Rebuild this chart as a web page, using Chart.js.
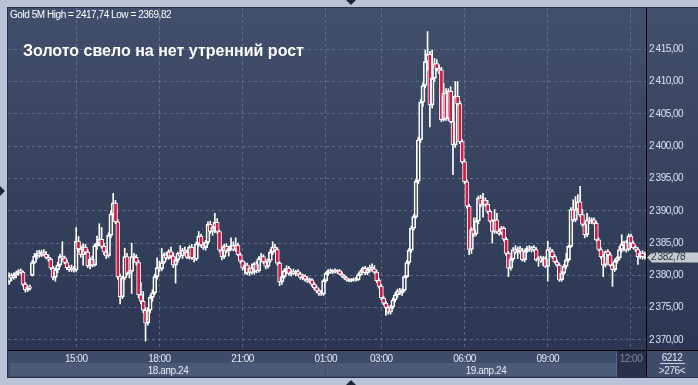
<!DOCTYPE html>
<html>
<head>
<meta charset="utf-8">
<script src="https://cdn.jsdelivr.net/npm/chart.js@4.4.1/dist/chart.umd.min.js"></script>
<style>
html,body{margin:0;padding:0;}
body{width:698px;height:385px;position:relative;overflow:hidden;background:#b9c5d6;font-family:"Liberation Sans",Arial,sans-serif;}
.a{position:absolute;}
#panel{left:7px;top:7px;width:691px;height:369px;border-left:1px solid #26324a;border-top:1px solid #26324a;border-bottom:1px solid #26324a;
  background:linear-gradient(to bottom,#404f6b 0px,#2b3752 342px,#2b3752 100%);}
#axisRow{left:8px;top:351px;width:690px;height:26px;background:#3d4c68;}
.band{top:363px;height:13px;background:#4a5a77;}
#future{left:616px;top:351px;width:29px;height:26px;background:#27324a;border-left:1px solid #5d6980;}
#hline{left:8px;top:350px;width:690px;height:1px;background:#000;}
#vline{left:646px;top:8px;width:1px;height:369px;background:#000;}
canvas{position:absolute;left:0;top:0;}
.txt{color:#e4ebf5;font-size:10px;line-height:10px;white-space:nowrap;letter-spacing:-0.4px;}
#title{left:23px;top:42px;color:#fff;font-size:16px;font-weight:bold;line-height:17px;white-space:nowrap;}
.tri{width:0;height:0;}
</style>
</head>
<body>
<div id="panel" class="a"></div>
<div id="axisRow" class="a"></div>
<div class="a band" style="left:10px;width:315px;"></div>
<div class="a band" style="left:326px;width:320px;"></div>
<div id="future" class="a"></div>
<canvas id="chart" width="698" height="385"></canvas>
<div id="hline" class="a"></div>
<div id="vline" class="a"></div>
<div id="head" class="a txt" style="left:10px;top:10px;color:#fff;letter-spacing:-0.45px;"></div>
<div id="title" class="a">Золото свело на нет утренний рост</div>
<div class="a txt" style="left:128px;top:366px;width:80px;text-align:center;">18.апр.24</div>
<div class="a txt" style="left:446px;top:366px;width:80px;text-align:center;">19.апр.24</div>
<div class="a txt" style="left:652px;top:353px;width:40px;text-align:center;">6212</div>
<div class="a" style="left:660px;top:363px;width:25px;height:1px;background:#c9d3e2;"></div>
<div class="a txt" style="left:652px;top:366px;width:40px;text-align:center;">&gt;276&lt;</div>
<div class="a tri" style="left:346px;top:0;border-left:5px solid transparent;border-right:5px solid transparent;border-top:5px solid #1d2635;"></div>
<div class="a tri" style="left:346px;top:380px;border-left:5px solid transparent;border-right:5px solid transparent;border-bottom:5px solid #1d2635;"></div>
<div class="a tri" style="left:0;top:186px;border-top:5px solid transparent;border-bottom:5px solid transparent;border-left:5px solid #1d2635;"></div>
<script>
// Gold 5M candles, 18-19 Apr 2024, 276 bars
const opens = [
2379.0,2380.0,2379.6,2380.1,2380.4,2380.7,2380.5,2378.6,2377.8,2378.2,2380.0,2382.0,
2383.0,2383.4,2383.1,2383.6,2383.3,2382.8,2382.5,2381.1,2379.7,2380.9,2381.6,2382.9,
2382.7,2382.0,2381.2,2380.9,2381.1,2380.8,2385.3,2384.1,2383.2,2384.4,2383.6,2381.5,
2382.5,2381.6,2384.6,2385.0,2385.6,2384.5,2383.6,2383.0,2386.2,2389.5,2391.2,2388.3,
2379.8,2376.7,2379.6,2382.9,2380.3,2380.6,2382.9,2382.8,2382.0,2377.0,2376.0,2374.6,
2372.6,2374.6,2376.6,2377.3,2379.8,2381.2,2381.0,2382.0,2383.2,2382.7,2383.7,2383.0,
2381.6,2382.4,2383.4,2383.0,2383.9,2383.6,2382.8,2384.4,2382.7,2382.5,2384.9,2386.1,
2384.7,2384.3,2385.1,2387.9,2386.8,2387.4,2388.2,2386.8,2383.9,2382.9,2384.5,2383.8,
2384.2,2384.6,2384.0,2384.7,2383.2,2382.2,2381.1,2381.6,2380.4,2381.1,2380.5,2381.8,
2380.7,2382.6,2382.9,2382.1,2381.4,2382.3,2383.6,2384.4,2384.0,2381.9,2379.0,2379.8,
2380.7,2381.1,2380.3,2380.6,2380.3,2380.6,2380.2,2379.7,2379.9,2379.4,2379.1,2379.3,
2378.6,2378.1,2377.6,2377.2,2377.1,2379.2,2380.3,2380.7,2380.5,2380.8,2380.6,2380.7,
2380.2,2379.9,2379.6,2379.3,2379.2,2379.3,2379.4,2379.3,2380.1,2380.6,2381.1,2380.4,
2380.9,2381.2,2381.0,2380.5,2379.2,2378.3,2376.5,2375.7,2375.0,2374.3,2375.1,2376.2,
2377.0,2377.6,2377.3,2377.7,2379.8,2382.0,2383.9,2387.3,2389.1,2394.6,2401.0,2406.8,
2409.4,2413.1,2414.2,2406.4,2410.5,2412.8,2412.0,2411.8,2404.1,2408.2,2404.3,2408.5,
2403.8,2400.2,2407.7,2406.6,2400.7,2397.6,2394.5,2390.7,2384.0,2387.1,2386.4,2388.4,
2392.0,2390.9,2391.6,2391.0,2389.9,2388.4,2386.8,2388.6,2386.8,2386.5,2387.3,2385.6,
2383.4,2381.1,2382.5,2384.0,2383.6,2384.1,2383.8,2382.4,2383.8,2384.2,2384.0,2384.3,
2384.0,2382.4,2382.7,2382.2,2382.6,2381.4,2384.0,2383.7,2382.9,2382.1,2381.6,2379.3,
2380.4,2381.4,2382.4,2384.5,2390.2,2388.6,2390.2,2391.4,2389.4,2387.9,2386.3,2388.6,
2388.4,2388.6,2388.1,2385.5,2384.0,2382.9,2381.6,2383.7,2383.2,2381.6,2380.9,2382.2,
2382.7,2384.0,2384.8,2385.1,2384.0,2386.1,2385.0,2384.3,2384.0,2382.9,2383.4,2382.9
];
const highs = [
2380.4,2380.3,2380.4,2380.6,2380.9,2381.0,2380.7,2378.9,2378.4,2378.5,2382.3,2383.4,
2383.8,2383.9,2383.9,2384.0,2383.7,2383.2,2382.7,2381.4,2381.2,2382.0,2383.3,2385.2,
2383.0,2382.4,2381.5,2381.6,2381.4,2387.4,2386.0,2384.6,2384.9,2384.8,2384.0,2382.8,
2383.0,2384.8,2386.1,2388.0,2387.4,2385.0,2384.0,2386.6,2390.0,2392.7,2391.6,2388.6,
2380.2,2379.9,2384.2,2383.4,2380.8,2385.0,2383.4,2383.2,2382.3,2378.9,2377.5,2375.0,
2375.0,2376.9,2377.8,2380.2,2382.7,2382.2,2384.2,2383.5,2383.6,2384.0,2384.4,2383.5,
2382.8,2383.6,2384.6,2384.2,2384.4,2383.9,2384.6,2384.8,2383.2,2385.2,2386.8,2386.4,
2385.1,2385.4,2388.3,2388.4,2387.6,2389.6,2388.8,2387.0,2384.3,2384.8,2384.9,2384.5,
2385.8,2385.2,2385.8,2385.0,2383.5,2382.4,2382.0,2381.9,2381.3,2381.8,2382.0,2382.2,
2382.9,2383.4,2383.2,2382.5,2382.6,2384.0,2385.2,2384.8,2384.3,2382.1,2380.2,2381.0,
2381.5,2381.4,2380.9,2381.0,2380.8,2380.9,2380.5,2380.2,2380.1,2379.8,2379.6,2379.5,
2378.9,2378.4,2377.9,2377.7,2379.4,2380.5,2380.9,2381.0,2380.9,2381.0,2380.9,2380.9,
2380.5,2380.1,2379.8,2379.5,2379.5,2379.6,2379.7,2380.3,2380.8,2381.3,2381.4,2381.2,
2381.6,2381.8,2381.5,2380.8,2379.5,2378.6,2376.8,2376.0,2375.3,2375.4,2376.5,2377.3,
2377.9,2378.0,2377.9,2380.0,2382.3,2384.2,2387.6,2389.4,2394.9,2401.4,2407.2,2409.8,
2414.9,2417.74,2414.7,2414.9,2413.6,2413.4,2412.6,2412.2,2409.7,2408.9,2408.9,2409.2,
2404.2,2410.0,2410.0,2407.0,2401.0,2398.0,2394.8,2391.0,2387.4,2388.9,2388.9,2392.3,
2392.4,2392.7,2392.0,2391.6,2390.2,2388.6,2390.2,2389.6,2387.2,2387.6,2387.5,2385.9,
2383.7,2382.8,2384.3,2384.6,2384.4,2384.5,2384.2,2384.0,2384.5,2384.6,2384.5,2384.6,
2384.3,2382.9,2383.0,2382.9,2382.9,2385.3,2384.3,2384.0,2383.2,2382.4,2381.9,2380.6,
2381.7,2383.4,2384.7,2390.5,2391.7,2392.2,2392.5,2393.8,2390.2,2388.2,2389.6,2389.0,
2388.9,2388.9,2388.4,2385.8,2384.3,2383.2,2383.8,2384.0,2383.5,2381.9,2382.5,2382.9,
2384.5,2386.3,2385.3,2385.4,2386.4,2386.4,2385.3,2384.6,2384.3,2383.7,2383.8,2383.6
];
const lows = [
2378.6,2379.2,2379.4,2379.6,2380.0,2380.2,2378.3,2377.4,2377.5,2377.7,2379.9,2381.8,
2382.5,2382.8,2382.9,2383.1,2382.6,2382.2,2380.9,2379.3,2379.1,2380.4,2381.3,2382.4,
2381.8,2380.9,2380.6,2380.6,2380.5,2380.6,2383.6,2382.8,2381.6,2383.3,2381.2,2381.0,
2381.3,2381.4,2384.0,2384.6,2384.2,2383.2,2382.6,2382.8,2385.8,2389.0,2388.0,2379.4,
2375.6,2376.4,2379.3,2380.0,2379.6,2377.2,2382.0,2381.6,2376.5,2375.6,2374.2,2369.82,
2372.3,2374.2,2376.0,2377.0,2379.4,2380.6,2380.7,2381.8,2382.4,2382.5,2382.6,2381.2,
2378.8,2382.0,2382.8,2382.6,2383.4,2382.6,2382.5,2382.5,2382.1,2382.3,2384.5,2384.4,
2384.0,2383.9,2384.8,2386.5,2386.2,2386.6,2386.5,2383.6,2382.4,2382.6,2383.5,2383.0,
2383.9,2383.8,2383.7,2383.0,2381.9,2380.8,2380.2,2380.1,2380.0,2380.2,2380.2,2380.4,
2380.5,2382.1,2381.8,2381.0,2381.1,2382.0,2383.2,2383.6,2381.6,2378.4,2378.6,2379.5,
2380.2,2380.0,2379.9,2380.1,2379.9,2380.0,2379.4,2379.3,2379.1,2378.9,2378.8,2378.3,
2377.8,2377.3,2376.9,2376.9,2376.9,2378.9,2380.0,2380.3,2380.3,2380.4,2380.3,2380.1,
2379.7,2379.4,2379.1,2379.0,2379.0,2379.1,2379.1,2379.2,2379.9,2380.4,2380.1,2380.1,
2380.5,2380.6,2380.3,2378.9,2378.0,2376.2,2375.4,2373.8,2374.0,2374.0,2374.8,2375.9,
2376.6,2377.0,2376.9,2377.5,2379.6,2381.7,2383.6,2387.0,2388.8,2394.2,2400.6,2406.2,
2409.0,2411.8,2403.0,2405.9,2410.0,2411.6,2411.2,2403.8,2403.9,2404.0,2404.0,2403.6,
2395.6,2399.8,2406.3,2400.4,2397.3,2394.2,2390.4,2383.2,2383.4,2386.0,2386.1,2388.0,
2390.6,2389.0,2390.7,2389.6,2388.2,2385.0,2386.5,2386.5,2386.2,2386.3,2385.3,2383.1,
2379.8,2380.8,2382.2,2383.3,2382.6,2383.4,2382.2,2382.1,2383.5,2383.7,2383.6,2383.7,
2382.2,2381.4,2382.0,2381.5,2381.2,2379.1,2383.5,2382.6,2381.9,2381.4,2379.1,2379.1,
2380.1,2381.1,2382.1,2384.3,2388.3,2388.3,2389.9,2389.1,2387.6,2385.8,2386.0,2388.0,
2388.0,2387.9,2385.3,2383.8,2382.6,2379.8,2381.3,2382.9,2381.4,2378.3,2380.6,2381.9,
2382.4,2383.6,2383.8,2383.6,2383.8,2384.8,2384.1,2383.7,2381.7,2382.6,2382.5,2382.5
];
const closes = [
2380.0,2379.6,2380.1,2380.4,2380.7,2380.5,2378.6,2377.8,2378.2,2378.0,2382.0,2383.0,
2383.4,2383.1,2383.6,2383.3,2382.8,2382.5,2381.1,2379.7,2380.9,2381.6,2382.9,2382.7,
2382.0,2381.2,2380.9,2381.1,2380.8,2385.3,2384.1,2383.2,2384.4,2383.6,2381.5,2382.5,
2381.6,2384.6,2385.0,2385.6,2384.5,2383.6,2383.0,2386.2,2389.5,2391.2,2388.3,2379.8,
2376.7,2379.6,2382.9,2380.3,2380.6,2382.9,2382.8,2382.0,2377.0,2376.0,2374.6,2372.6,
2374.6,2376.6,2377.3,2379.8,2381.2,2381.0,2382.0,2383.2,2382.7,2383.7,2383.0,2381.6,
2382.4,2383.4,2383.0,2383.9,2383.6,2382.8,2384.4,2382.7,2382.5,2384.9,2386.1,2384.7,
2384.3,2385.1,2387.9,2386.8,2387.4,2388.2,2386.8,2383.9,2382.9,2384.5,2383.8,2384.2,
2384.6,2384.0,2384.7,2383.2,2382.2,2381.1,2381.6,2380.4,2381.1,2380.5,2381.8,2380.7,
2382.6,2382.9,2382.1,2381.4,2382.3,2383.6,2384.4,2384.0,2381.9,2379.0,2379.8,2380.7,
2381.1,2380.3,2380.6,2380.3,2380.6,2380.2,2379.7,2379.9,2379.4,2379.1,2379.3,2378.6,
2378.1,2377.6,2377.2,2377.1,2379.2,2380.3,2380.7,2380.5,2380.8,2380.6,2380.7,2380.2,
2379.9,2379.6,2379.3,2379.2,2379.3,2379.4,2379.3,2380.1,2380.6,2381.1,2380.4,2380.9,
2381.2,2381.0,2380.5,2379.2,2378.3,2376.5,2375.7,2375.0,2374.3,2375.1,2376.2,2377.0,
2377.6,2377.3,2377.7,2379.8,2382.0,2383.9,2387.3,2389.1,2394.6,2401.0,2406.8,2409.4,
2413.1,2414.2,2406.4,2410.5,2412.8,2412.0,2411.8,2404.1,2408.2,2404.3,2408.5,2403.8,
2400.2,2407.7,2406.6,2400.7,2397.6,2394.5,2390.7,2384.0,2387.1,2386.4,2388.4,2392.0,
2390.9,2391.6,2391.0,2389.9,2388.4,2386.8,2388.6,2386.8,2386.5,2387.3,2385.6,2383.4,
2381.1,2382.5,2384.0,2383.6,2384.1,2383.8,2382.4,2383.8,2384.2,2384.0,2384.3,2384.0,
2382.4,2382.7,2382.2,2382.6,2381.4,2384.0,2383.7,2382.9,2382.1,2381.6,2379.3,2380.4,
2381.4,2382.4,2384.5,2390.2,2388.6,2390.2,2391.4,2389.4,2387.9,2386.3,2388.6,2388.4,
2388.6,2388.1,2385.5,2384.0,2382.9,2381.6,2383.7,2383.2,2381.6,2380.9,2382.2,2382.7,
2384.0,2384.8,2385.1,2384.0,2386.1,2385.0,2384.3,2384.0,2382.9,2383.4,2382.9,2382.78
];
const tickIndex = [29, 65, 101, 137, 161, 197, 233, 269];
const tickLabels = ['15:00', '18:00', '21:00', '01:00', '03:00', '06:00', '09:00', '12:00'];
const priceTicks = [2370, 2375, 2380, 2385, 2390, 2395, 2400, 2405, 2410, 2415];

const FONT = '"Liberation Sans", Arial, sans-serif';
const gridColor = 'rgba(118,134,162,0.6)';

function fmt(v) {
  const parts = v.toFixed(2).split('.');
  return parts[0].replace(/\B(?=(\d{3})+(?!\d))/g, '\u2009') + ',' + parts[1];
}

const hi = Math.max(...highs), lo = Math.min(...lows);
document.getElementById('head').textContent =
  'Gold 5M  High = ' + hi.toFixed(2).replace('.', ',') + ' Low = ' + lo.toFixed(2).replace('.', ',');

const bodies = opens.map((o, i) => [Math.min(o, closes[i]), Math.max(o, closes[i])]);
const upperWicks = opens.map((o, i) => [Math.max(o, closes[i]), highs[i]]);
const lowerWicks = opens.map((o, i) => [lows[i], Math.min(o, closes[i])]);
const bodyColors = opens.map((o, i) => closes[i] < o ? '#e3133d' : 'rgba(0,0,0,0)');

// tighter letter spacing for the small axis text
const tightText = {
  id: 'tightText',
  beforeDraw(chart) { chart.ctx.letterSpacing = '-0.5px'; }
};

const lastPrice = {
  id: 'lastPrice',
  afterDraw(chart) {
    const ctx = chart.ctx, y = chart.scales.y;
    const v = closes[closes.length - 1];
    const py = Math.round(y.getPixelForValue(v)) + 0.5;
    const x0 = y.left + 1;
    ctx.save();
    ctx.fillStyle = '#c6cad2';
    ctx.beginPath();
    ctx.moveTo(x0, py);
    ctx.lineTo(x0 + 5, py - 5);
    ctx.lineTo(698, py - 5);
    ctx.lineTo(698, py + 5);
    ctx.lineTo(x0 + 5, py + 5);
    ctx.closePath();
    ctx.fill();
    ctx.fillStyle = '#2a313d';
    ctx.font = '10px ' + FONT;
    ctx.textBaseline = 'middle';
    ctx.fillText(fmt(v), x0 + 4, py);
    ctx.restore();
  }
};

new Chart(document.getElementById('chart'), {
  type: 'bar',
  data: {
    labels: opens.map((_, i) => i),
    datasets: [
      {data: upperWicks, backgroundColor: '#ffffff', barThickness: 1, grouped: false, borderWidth: 0},
      {data: lowerWicks, backgroundColor: '#ffffff', barThickness: 1, grouped: false, borderWidth: 0},
      {data: bodies, backgroundColor: bodyColors, borderColor: '#ffffff', borderWidth: 1,
       borderSkipped: false, barThickness: 4, grouped: false, minBarLength: 1}
    ]
  },
  options: {
    responsive: false,
    animation: false,
    layout: {padding: {left: 8, top: 8, right: 0, bottom: 8}},
    plugins: {legend: {display: false}, tooltip: {enabled: false}},
    scales: {
      x: {
        afterFit(s) { s.height = 27; },
        afterBuildTicks(s) { s.ticks = tickIndex.map(v => ({value: v})); },
        grid: {color: gridColor, drawTicks: false, offset: false},
        border: {display: false, dash: [3, 3]},
        ticks: {
          autoSkip: false, maxRotation: 0, padding: 4,
          font: {size: 10, family: FONT, lineHeight: 1},
          color: c => c.index === tickLabels.length - 1 ? '#7d889a' : '#e2eaf5',
          callback: (v, i) => tickLabels[i]
        }
      },
      y: {
        position: 'right',
        min: 2368.45,
        max: 2421.39,
        afterFit(s) { s.width = 52; },
        afterBuildTicks(s) { s.ticks = priceTicks.map(v => ({value: v})); },
        grid: {color: gridColor, drawTicks: false},
        border: {display: false, dash: [3, 3]},
        ticks: {
          padding: 3,
          font: {size: 10, family: FONT, lineHeight: 1},
          color: '#d6e1f1',
          callback: v => fmt(v)
        }
      }
    }
  },
  plugins: [tightText, lastPrice]
});
</script>
</body>
</html>
